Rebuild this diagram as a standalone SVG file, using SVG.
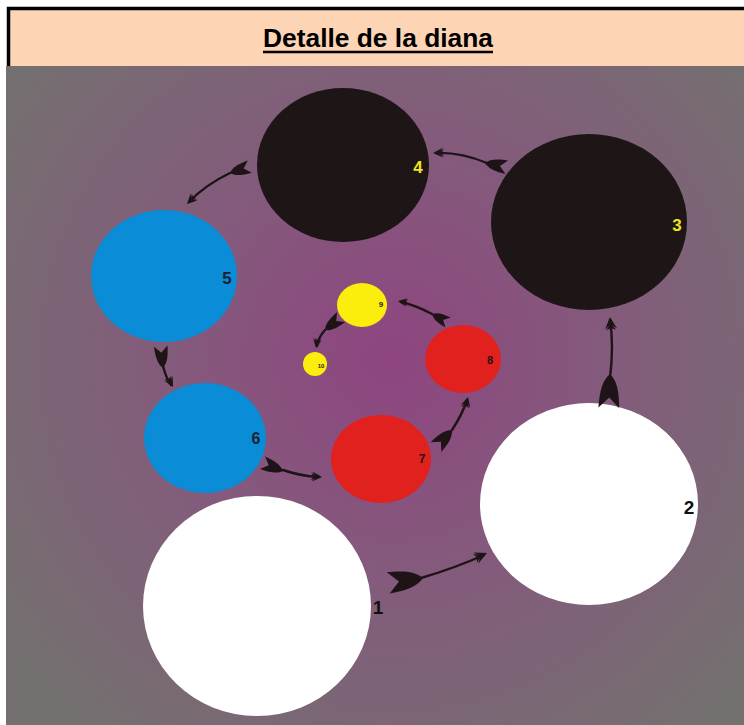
<svg xmlns="http://www.w3.org/2000/svg" width="744" height="725" viewBox="0 0 744 725">
<style>
.lbl{font-family:"Liberation Sans",Arial,sans-serif;font-weight:bold;text-anchor:middle}
.shaft{fill:none;stroke:#1e1418;stroke-width:2.4;stroke-linecap:round}
.ah{fill:#1e1418}
</style>
<defs>
<radialGradient id="bg" cx="390" cy="360" r="470" gradientUnits="userSpaceOnUse">
<stop offset="0" stop-color="#8e4580"/>
<stop offset="0.45" stop-color="#845a7c"/>
<stop offset="1" stop-color="#747070"/>
</radialGradient>
<path id="head" d="M0,0 L-11,-5.5 L-8,-1.5 L-12,-4.5 L-10,0 L-12,4.5 L-8,1.5 L-11,5.5 Z"/>
<path id="tail" d="M0,0 C-5,-5.5 -13,-7.5 -26,-8 L-18,0 L-26,8 C-13,7.5 -5,5.5 0,0 Z"/>
</defs>
<rect x="6" y="66" width="738" height="659" fill="url(#bg)"/>
<rect x="9" y="9" width="735" height="57" fill="#fdd5b4"/>
<path d="M8.5,66 V8.5 H744" fill="none" stroke="#000" stroke-width="3.5"/>
<text x="378" y="47" font-family="'Liberation Sans',Arial,sans-serif" font-weight="bold" font-size="26" text-anchor="middle" textLength="230" lengthAdjust="spacingAndGlyphs">Detalle de la diana</text>
<line x1="263" y1="52" x2="493" y2="52" stroke="#000" stroke-width="2.5"/>

<g id="n1"><ellipse cx="257" cy="606" rx="114" ry="110" fill="#fff"/><text class="lbl" x="378" y="614" font-size="19" fill="#111">1</text></g>
<g id="n2"><ellipse cx="589" cy="504" rx="109" ry="101" fill="#fff"/><text class="lbl" x="689" y="514" font-size="19" fill="#111">2</text></g>
<g id="n3"><ellipse cx="589" cy="222" rx="98" ry="88" fill="#1e1616"/><text class="lbl" x="677" y="231" font-size="17" fill="#f2e31c">3</text></g>
<g id="n4"><ellipse cx="343" cy="165" rx="86" ry="77" fill="#1e1616"/><text class="lbl" x="418" y="173" font-size="17" fill="#f2e31c">4</text></g>
<g id="n5"><ellipse cx="164" cy="276" rx="73" ry="66" fill="#0a8cd6"/><text class="lbl" x="227" y="284" font-size="17" fill="#1a2233">5</text></g>
<g id="n6"><ellipse cx="205" cy="438" rx="61" ry="55" fill="#0a8cd6"/><text class="lbl" x="256" y="444" font-size="16" fill="#1a2233">6</text></g>
<g id="n7"><ellipse cx="381" cy="459" rx="50" ry="44" fill="#e0211d"/><text class="lbl" x="422" y="463" font-size="12" fill="#2a1010">7</text></g>
<g id="n8"><ellipse cx="463" cy="359" rx="38" ry="34" fill="#e0211d"/><text class="lbl" x="490" y="364" font-size="11" fill="#2a1010">8</text></g>
<g id="n9"><ellipse cx="362" cy="305" rx="25" ry="22" fill="#fbed0c"/><text class="lbl" x="381" y="307" font-size="8" fill="#2a2010">9</text></g>
<g id="n10"><ellipse cx="315" cy="364" rx="12" ry="12" fill="#fbed0c"/><text class="lbl" x="321" y="367.5" font-size="6" fill="#2a2010">10</text></g>

<g id="connectors">
<g id="a1-2"><path class="shaft" d="M421,578 Q455,568 484,555" stroke-width="3"/><use href="#tail" class="ah" transform="translate(423,578) rotate(-8) scale(1.35)"/><use href="#head" class="ah" transform="translate(487,553) rotate(-24) scale(1.1)"/></g>
<g id="a2-3"><path class="shaft" d="M610,378 Q614,345 610,320" stroke-width="3"/><use href="#tail" class="ah" transform="translate(610,374) rotate(-88) scale(1.3)"/><use href="#head" class="ah" transform="translate(610,317) rotate(-95) scale(1.1)"/></g>
<g id="a3-4"><path class="shaft" d="M487,163 Q460,152 436,153"/><use href="#tail" class="ah" transform="translate(485,163) rotate(191) scale(0.85)"/><use href="#head" class="ah" transform="translate(433,153) rotate(178) scale(0.9)"/></g>
<g id="a4-5"><path class="shaft" d="M230,173 Q205,185 189,202"/><use href="#tail" class="ah" transform="translate(230,173) rotate(162) scale(0.8)"/><use href="#head" class="ah" transform="translate(187,204) rotate(135) scale(0.9)"/></g>
<g id="a5-6"><path class="shaft" d="M163,366 Q166,378 171,385"/><use href="#tail" class="ah" transform="translate(163,368) rotate(84) scale(0.85)"/><use href="#head" class="ah" transform="translate(173,387) rotate(62) scale(0.9)"/></g>
<g id="a6-7"><path class="shaft" d="M283,470 Q300,476 319,477"/><use href="#tail" class="ah" transform="translate(283,471) rotate(22) scale(0.85)"/><use href="#head" class="ah" transform="translate(322,477) rotate(3) scale(0.9)"/></g>
<g id="a7-8"><path class="shaft" d="M452,430 Q462,415 467,400"/><use href="#tail" class="ah" transform="translate(452,430) rotate(-47) scale(0.9)"/><use href="#head" class="ah" transform="translate(468,397) rotate(-75) scale(0.9)"/></g>
<g id="a8-9"><path class="shaft" d="M432,314 Q415,305 401,302"/><use href="#tail" class="ah" transform="translate(432,314) rotate(208) scale(0.7)"/><use href="#head" class="ah" transform="translate(398,301) rotate(190) scale(0.8)"/></g>
<g id="a9-10"><path class="shaft" d="M325,330 Q318,338 317,346"/><use href="#tail" class="ah" transform="translate(325,330) rotate(141) scale(0.8)"/><use href="#head" class="ah" transform="translate(316,348) rotate(100) scale(0.8)"/></g>
</g>
</svg>
